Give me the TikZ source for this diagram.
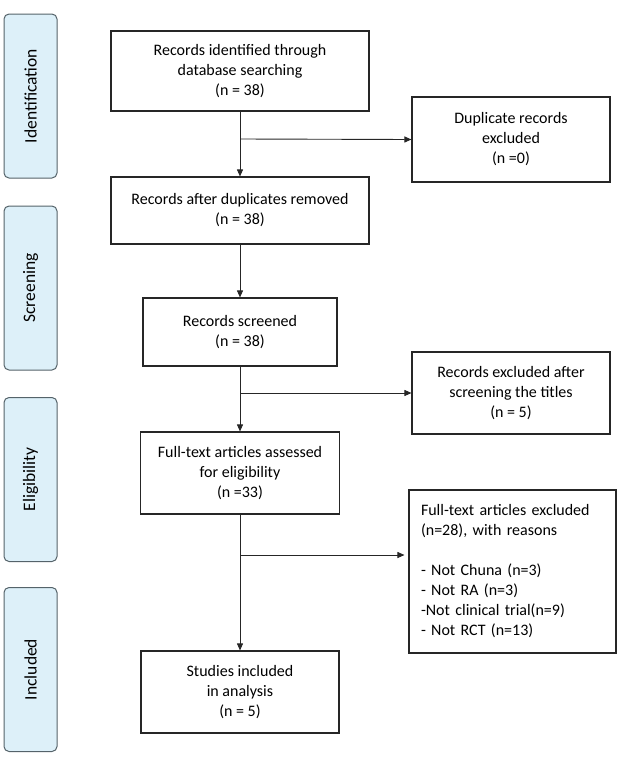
\documentclass[tikz,border=0pt]{standalone}
\usepackage{fontspec}
\setmainfont{Carlito}
\usetikzlibrary{arrows.meta}
\definecolor{phasefill}{HTML}{DDF0F9}
\definecolor{phaseline}{HTML}{55636A}
\tikzset{
  box/.style={draw=black!85, line width=1.1pt, align=center, inner sep=0pt,
    font=\fontsize{16}{20}\selectfont},
  phase/.style={draw=phaseline, fill=phasefill, line width=1pt, rounded corners=5pt,
    rotate=90, minimum width=164pt, minimum height=53pt, inner sep=0pt,
    font=\fontsize{17.5}{21}\selectfont},
  flow/.style={-{Triangle[length=7pt,width=6pt]}, line width=0.9pt, black!85}
}
\begin{document}
\begin{tikzpicture}[x=1pt,y=-1pt]
      \useasboundingbox (0,0) rectangle (637,774);
      % phases
      \node[phase] (pid) at (30.5,96) {Identification};
      \node[phase] (psc) at (30.5,288) {Screening};
      \node[phase] (pel) at (30.5,479.5) {Eligibility};
      \node[phase] (pin) at (30.5,669.5) {Included};
      % main column
      \node[box,minimum width=258pt,minimum height=80pt] (ident) at (240,71) {Records identified through\\database searching\\(n = 38)};
      \node[box,minimum width=258pt,minimum height=67pt] (nodup) at (240,210.5) {Records after duplicates removed\\(n = 38)};
      \node[box,minimum width=194pt,minimum height=68pt] (screen) at (240,332) {Records screened\\(n = 38)};
      \node[box,minimum width=199pt,minimum height=82pt] (fulltext) at (240,473) {Full-text articles assessed\\for eligibility\\(n =33)};
      \node[box,minimum width=198pt,minimum height=82pt] (studies) at (240,692) {Studies included\\in analysis\\(n = 5)};
      % exclusions
      \node[box,minimum width=198pt,minimum height=85pt] (dupex) at (511,139.5) {Duplicate records\\excluded\\(n =0)};
      \node[box,minimum width=198pt,minimum height=82pt] (titlex) at (511,393) {Records excluded after\\screening the titles\\(n = 5)};
      \node[box,minimum width=207pt,minimum height=163pt,align=left,text width=183pt] (fullex) at (512.5,571.5)
        {Full-text articles excluded\\(n=28), with reasons\\[20pt]- Not Chuna (n=3)\\- Not RA (n=3)\\-Not clinical trial(n=9)\\- Not RCT (n=13)};
      % branch points
      \coordinate (b1) at (240,139);
      \coordinate (b2) at (240,393);
      \coordinate (b3) at (240,555);
      \draw[flow] (ident) -- (nodup);
      \draw[flow] (nodup) -- (screen);
      \draw[flow] (screen) -- (fulltext);
      \draw[flow] (fulltext) -- (studies);
      \draw[flow] (b1) -- (dupex.west);
      \draw[flow] (b2) -- (titlex.west);
      \draw[flow] (b3) -- ([xshift=-4pt]b3 -| fullex.west);
    \end{tikzpicture}
\end{document}
